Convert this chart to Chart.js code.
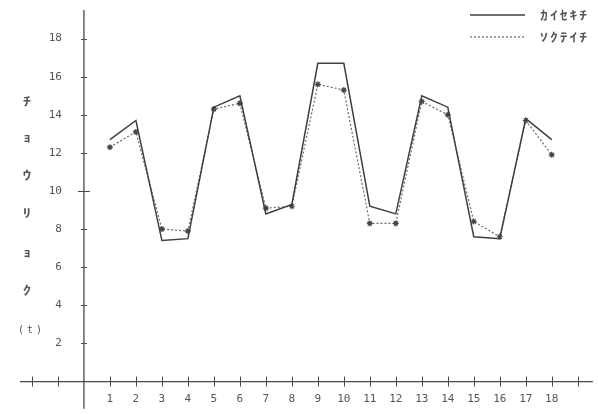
<!DOCTYPE html>
<html>
<head>
<meta charset="utf-8">
<script src="https://cdn.jsdelivr.net/npm/chart.js@4.4.1/dist/chart.umd.min.js"></script>
<style>
  html, body { margin: 0; padding: 0; background: #ffffff; }
  #wrap { width: 598px; height: 414px; position: relative; }
</style>
</head>
<body>
<div id="wrap"><canvas id="c" width="598" height="414"></canvas></div>
<script>
// ---- data ----
const categories = [1, 2, 3, 4, 5, 6, 7, 8, 9, 10, 11, 12, 13, 14, 15, 16, 17, 18];
const analysisValues = [12.7, 13.7, 7.4, 7.5, 14.4, 15.0, 8.8, 9.3, 16.7, 16.7, 9.2, 8.8, 15.0, 14.4, 7.6, 7.5, 13.8, 12.7];
const measuredValues = [12.3, 13.1, 8.0, 7.9, 14.3, 14.6, 9.1, 9.2, 15.6, 15.3, 8.3, 8.3, 14.7, 14.0, 8.4, 7.6, 13.7, 11.9];
const seriesNames = ['ｶｲｾｷﾁ', 'ｿｸﾃｲﾁ'];
const xTickValues = [-2, -1, 1, 2, 3, 4, 5, 6, 7, 8, 9, 10, 11, 12, 13, 14, 15, 16, 17, 18, 19];
const xTickLabels = ['', '', '1', '2', '3', '4', '5', '6', '7', '8', '9', '10', '11', '12', '13', '14', '15', '16', '17', '18', ''];
const yTickValues = [2, 4, 6, 8, 10, 12, 14, 16, 18];
const yTickLabels = ['2', '4', '6', '8', '10', '12', '14', '16', '18'];
const yTitleChars = ['ﾁ', 'ｮ', 'ｳ', 'ﾘ', 'ｮ', 'ｸ'];
const yUnit = '(t)';

const ink = '#4a4a4a';
const textInk = '#555555';
const FONT = '11px "DejaVu Sans Mono", monospace';
const KFONT = 'bold 12px "Noto Sans CJK JP", monospace';

function stretchedChar(ctx, ch, x, y, sx) {
  ctx.save();
  ctx.translate(x, y);
  ctx.scale(sx, 1);
  ctx.fillText(ch, 0, 0);
  ctx.restore();
}

const axesPlugin = {
  id: 'axesPlugin',
  beforeDatasetsDraw(chart) {
    const ctx = chart.ctx;
    const xs = chart.scales.x, ys = chart.scales.y;
    const x0 = xs.getPixelForValue(0), y0 = ys.getPixelForValue(0);
    ctx.save();
    ctx.strokeStyle = ink;
    ctx.lineWidth = 1.3;
    ctx.beginPath();
    ctx.moveTo(xs.left, y0); ctx.lineTo(xs.right, y0);
    ctx.moveTo(x0, ys.top); ctx.lineTo(x0, ys.bottom);
    ctx.stroke();
    ctx.lineWidth = 1;
    ctx.beginPath();
    xTickValues.forEach(v => {
      const px = Math.round(xs.getPixelForValue(v)) + 0.5;
      ctx.moveTo(px, y0 - 5); ctx.lineTo(px, y0 + 5);
    });
    yTickValues.forEach(v => {
      const py = Math.round(ys.getPixelForValue(v)) + 0.5;
      const l = v === 10 ? 6 : 3;
      ctx.moveTo(x0 - l, py); ctx.lineTo(x0 + l, py);
    });
    ctx.stroke();
    ctx.fillStyle = textInk;
    ctx.font = FONT;
    ctx.textAlign = 'center';
    ctx.textBaseline = 'middle';
    xTickValues.forEach((v, i) => {
      if (!xTickLabels[i]) return;
      ctx.fillText(xTickLabels[i], xs.getPixelForValue(v), y0 + 18);
    });
    ctx.textAlign = 'right';
    yTickValues.forEach((v, i) => {
      ctx.fillText(yTickLabels[i], x0 - 22, ys.getPixelForValue(v));
    });
    // y title (vertical column)
    ctx.textAlign = 'center';
    ctx.font = KFONT;
    const titleYs = [101, 137, 175, 213, 252, 290];
    yTitleChars.forEach((ch, i) => stretchedChar(ctx, ch, 27, titleYs[i], 1.4));
    ctx.font = '10px "DejaVu Sans Mono", monospace';
    let ux = 21;
    for (const ch of yUnit) { ctx.fillText(ch, ux, 330); ux += 9; }
    // legend
    ctx.font = KFONT;
    ctx.textAlign = 'center';
    chart.data.datasets.forEach((ds, i) => {
      const ly = 15 + i * 22;
      ctx.strokeStyle = ds.borderColor;
      ctx.lineWidth = ds.borderWidth;
      ctx.setLineDash(ds.borderDash || []);
      ctx.beginPath();
      ctx.moveTo(470, ly); ctx.lineTo(525, ly);
      ctx.stroke();
      ctx.setLineDash([]);
      let tx = 544;
      for (const ch of ds.label) { stretchedChar(ctx, ch, tx, ly, 1.3); tx += 9.8; }
    });
    ctx.restore();
  }
};

new Chart(document.getElementById('c'), {
  type: 'line',
  data: {
    datasets: [
      {
        label: seriesNames[0],
        data: categories.map((c, i) => ({ x: c, y: analysisValues[i] })),
        borderColor: '#3f3f3f',
        borderWidth: 1.5,
        pointRadius: 0,
        tension: 0,
        fill: false
      },
      {
        label: seriesNames[1],
        data: categories.map((c, i) => ({ x: c, y: measuredValues[i] })),
        borderColor: '#6a6a6a',
        borderWidth: 1.2,
        borderDash: [2, 2],
        pointStyle: 'star',
        pointRadius: 3,
        pointBorderWidth: 1.2,
        pointBorderColor: '#444',
        pointBackgroundColor: '#444',
        tension: 0,
        fill: false
      }
    ]
  },
  options: {
    responsive: false,
    animation: false,
    devicePixelRatio: 1,
    layout: { padding: { left: 20, right: 5, top: 10, bottom: 0 } },
    scales: {
      x: { type: 'linear', min: -2.46, max: 19.58, display: false },
      y: { type: 'linear', min: -1.43, max: 19.5, display: false }
    },
    plugins: { legend: { display: false }, tooltip: { enabled: false } }
  },
  plugins: [axesPlugin]
});
</script>
</body>
</html>
